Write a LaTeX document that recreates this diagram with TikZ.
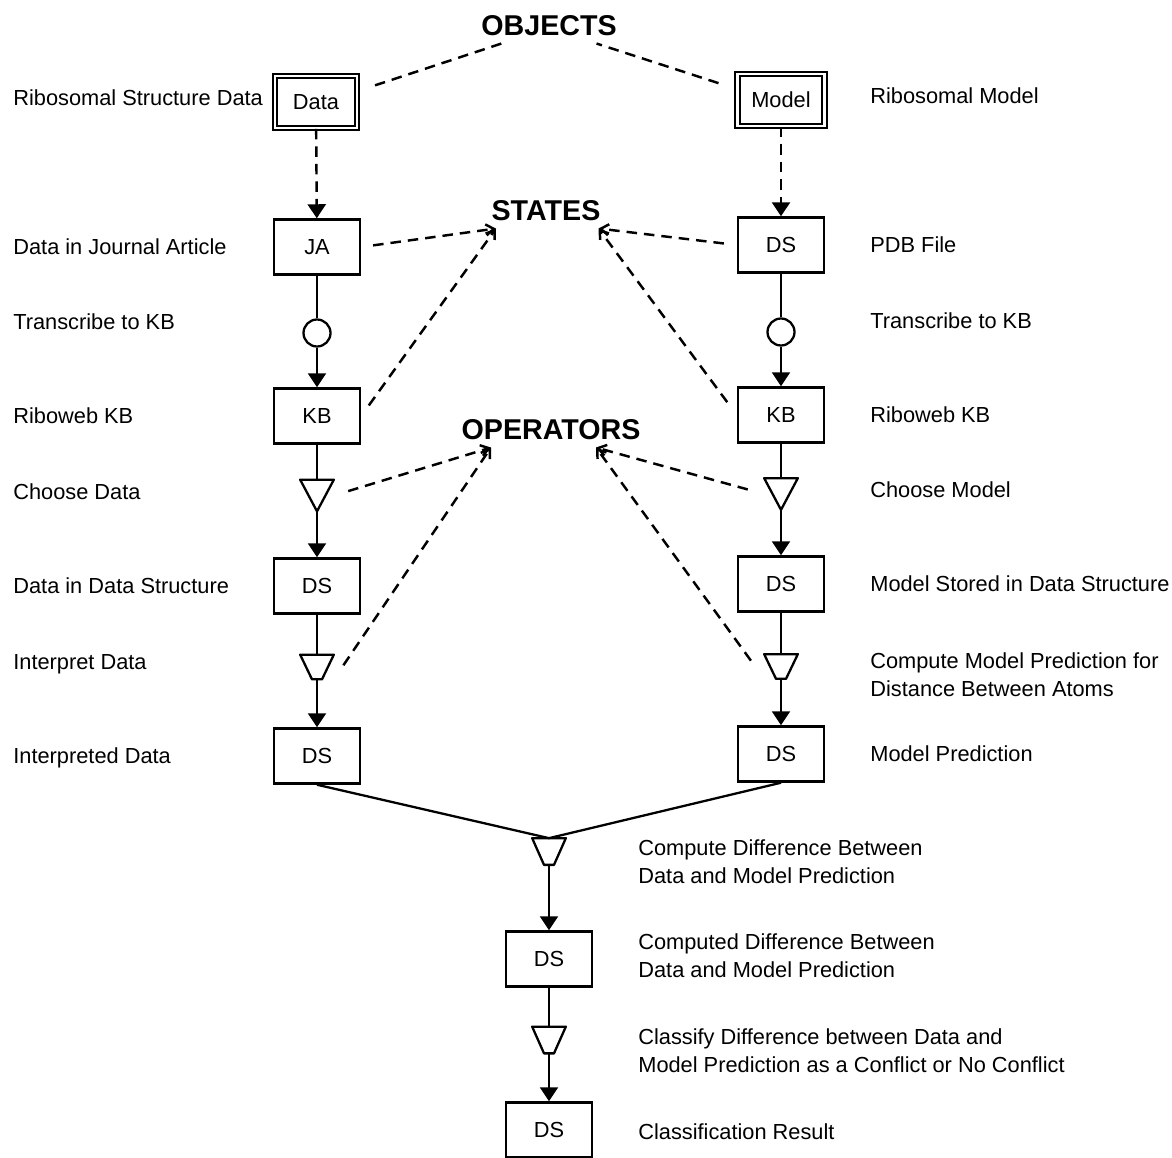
\documentclass[tikz,border=0pt]{standalone}
\usepackage{fontspec}
\setmainfont{Liberation Sans}
\usetikzlibrary{arrows.meta,positioning}

\begin{document}
\begin{tikzpicture}[x=0.2mm,y=-0.2mm,
  font=\fontsize{12.4}{15.9}\selectfont,
  obj/.style={draw,double,double distance=0.5mm,line width=1.1pt,minimum width=1.64cm,minimum height=1.04cm,inner sep=0pt},
  stbox/.style={draw,line width=1.4pt,minimum width=1.72cm,minimum height=1.1cm,inner sep=0pt},
  trans/.style={draw,circle,line width=1.3pt,minimum size=5.4mm,inner sep=0pt},
  opsel/.style={minimum width=6.6mm,minimum height=6.2mm,inner sep=0pt},
  opfun/.style={minimum width=6.6mm,minimum height=4.8mm,inner sep=0pt},
  lbl/.style={anchor=west,align=left,inner sep=0pt,text depth=0pt},
  head/.style={font=\fontsize{16.3}{18}\selectfont\bfseries,inner sep=4pt},
  wire/.style={line width=1.3pt},
  flow/.style={wire,-{Triangle[length=2.8mm,width=3.6mm]}},
  link/.style={line width=1.4pt,dash pattern=on 2.1mm off 1.4mm},
  tag/.style={link,-{Straight Barb[length=1.6mm,width=2.2mm]}}]
  \useasboundingbox (0,0) rectangle (1172,1158);
  % Headings
  \node[head] (objects) at (549,26) {OBJECTS};
  \node[head] (states) at (546,211) {STATES};
  \node[head] (operators) at (551,430) {OPERATORS};
  % Data column
  \node[obj] (data) at (316,102) {Data};
  \node[stbox] (ja) at (317,247) {JA};
  \node[trans] (trd) at (317,333) {};
  \node[stbox] (kbd) at (317,416) {KB};
  \node[opsel] (chd) at (317,495.5) {};
  \node[stbox] (dsd) at (317,586) {DS};
  \node[opfun] (ipd) at (317,667) {};
  \node[stbox] (ind) at (317,756) {DS};
  % Model column
  \node[obj,minimum width=1.74cm] (model) at (781,100) {Model};
  \node[stbox] (pdb) at (781,245) {DS};
  \node[trans] (trm) at (781,332) {};
  \node[stbox] (kbm) at (781,415) {KB};
  \node[opsel] (chm) at (781,494) {};
  \node[stbox] (dsm) at (781,584) {DS};
  \node[opfun] (cmp) at (781,666.5) {};
  \node[stbox] (prd) at (781,754) {DS};
  % Comparison
  \node[opfun,minimum height=5.2mm] (cdf) at (549,851.5) {};
  \node[stbox] (dcf) at (549,959) {DS};
  \node[opfun,minimum height=5.2mm] (cls) at (549,1040) {};
  \node[stbox] (res) at (549,1130) {DS};
  % Operator shapes
  \foreach \n in {chd,chm}
    \draw[wire,line join=round] (\n.north west) -- (\n.north east) -- (\n.south) -- cycle;
  \foreach \n in {ipd,cmp,cdf,cls}
    \draw[wire,line join=round] (\n.north west) -- (\n.north east) -- ([xshift=1mm]\n.south) -- ([xshift=-1mm]\n.south) -- cycle;
  % Labels
  \node[lbl] (l1) at (13,98) {Ribosomal Structure Data};
  \node[lbl] (l2) at (13,247) {Data in Journal Article};
  \node[lbl] (l3) at (13,322) {Transcribe to KB};
  \node[lbl] (l4) at (13,416) {Riboweb KB};
  \node[lbl] (l5) at (13,492) {Choose Data};
  \node[lbl] (l6) at (13,586) {Data in Data Structure};
  \node[lbl] (l7) at (13,662) {Interpret Data};
  \node[lbl] (l8) at (13,756) {Interpreted Data};
  \node[lbl] (r1) at (870,96) {Ribosomal Model};
  \node[lbl] (r2) at (870,245) {PDB File};
  \node[lbl] (r3) at (870,321) {Transcribe to KB};
  \node[lbl] (r4) at (870,415) {Riboweb KB};
  \node[lbl] (r5) at (870,490) {Choose Model};
  \node[lbl] (r6) at (870,584) {Model Stored in Data Structure};
  \node[lbl] (r7) at (870,675) {Compute Model Prediction for\\Distance Between Atoms};
  \node[lbl] (r8) at (870,754) {Model Prediction};
  \node[lbl] (b1) at (638,862) {Compute Difference Between\\Data and Model Prediction};
  \node[lbl] (b2) at (638,956) {Computed Difference Between\\Data and Model Prediction};
  \node[lbl] (b3) at (638,1051) {Classify Difference between Data and\\Model Prediction as a Conflict or No Conflict};
  \node[lbl] (b4) at (638,1132) {Classification Result};
  % Flow
  \draw[flow,link] (data) -- (ja);
  \draw[wire] (ja) -- (trd);
  \draw[flow] (trd) -- (kbd);
  \draw[wire] (kbd) -- (chd);
  \draw[flow] (chd) -- (dsd);
  \draw[wire] (dsd) -- (ipd);
  \draw[flow] (ipd) -- (ind);
  \draw[flow,link] (model) -- (pdb);
  \draw[wire] (pdb) -- (trm);
  \draw[flow] (trm) -- (kbm);
  \draw[wire] (kbm) -- (chm);
  \draw[flow] (chm) -- (dsm);
  \draw[wire] (dsm) -- (cmp);
  \draw[flow] (cmp) -- (prd);
  \draw[wire] (ind.south) -- (cdf.north);
  \draw[wire] (prd.south) -- (cdf.north);
  \draw[flow] (cdf) -- (dcf);
  \draw[wire] (dcf) -- (cls);
  \draw[flow] (cls) -- (res);
  % Heading links
  \draw[link,shorten <=3.6mm] ([yshift=2.2mm]data.east) -- ([xshift=-0.95cm]objects.south);
  \draw[link,shorten <=3.8mm] ([yshift=2.2mm]model.west) -- ([xshift=0.95cm]objects.south);
  \draw[tag,shorten <=2.4mm] (ja.east) -- ([xshift=-1cm]states.south);
  \draw[tag,shorten <=2.6mm] (kbd.east) -- ([xshift=-1cm]states.south);
  \draw[tag,shorten <=2.6mm] (pdb.west) -- ([xshift=1.05cm]states.south);
  \draw[tag,shorten <=3.2mm] (kbm.west) -- ([xshift=1.05cm]states.south);
  \draw[tag,shorten <=3mm] (chd.east) -- ([xshift=-1.2cm]operators.south);
  \draw[tag,shorten <=3.4mm] (ipd.south east) -- ([xshift=-1.2cm]operators.south);
  \draw[tag,shorten <=3.4mm] (chm.west) -- ([xshift=0.9cm]operators.south);
  \draw[tag,shorten <=4.5mm] (cmp.south west) -- ([xshift=0.9cm]operators.south);
\end{tikzpicture}
\end{document}
